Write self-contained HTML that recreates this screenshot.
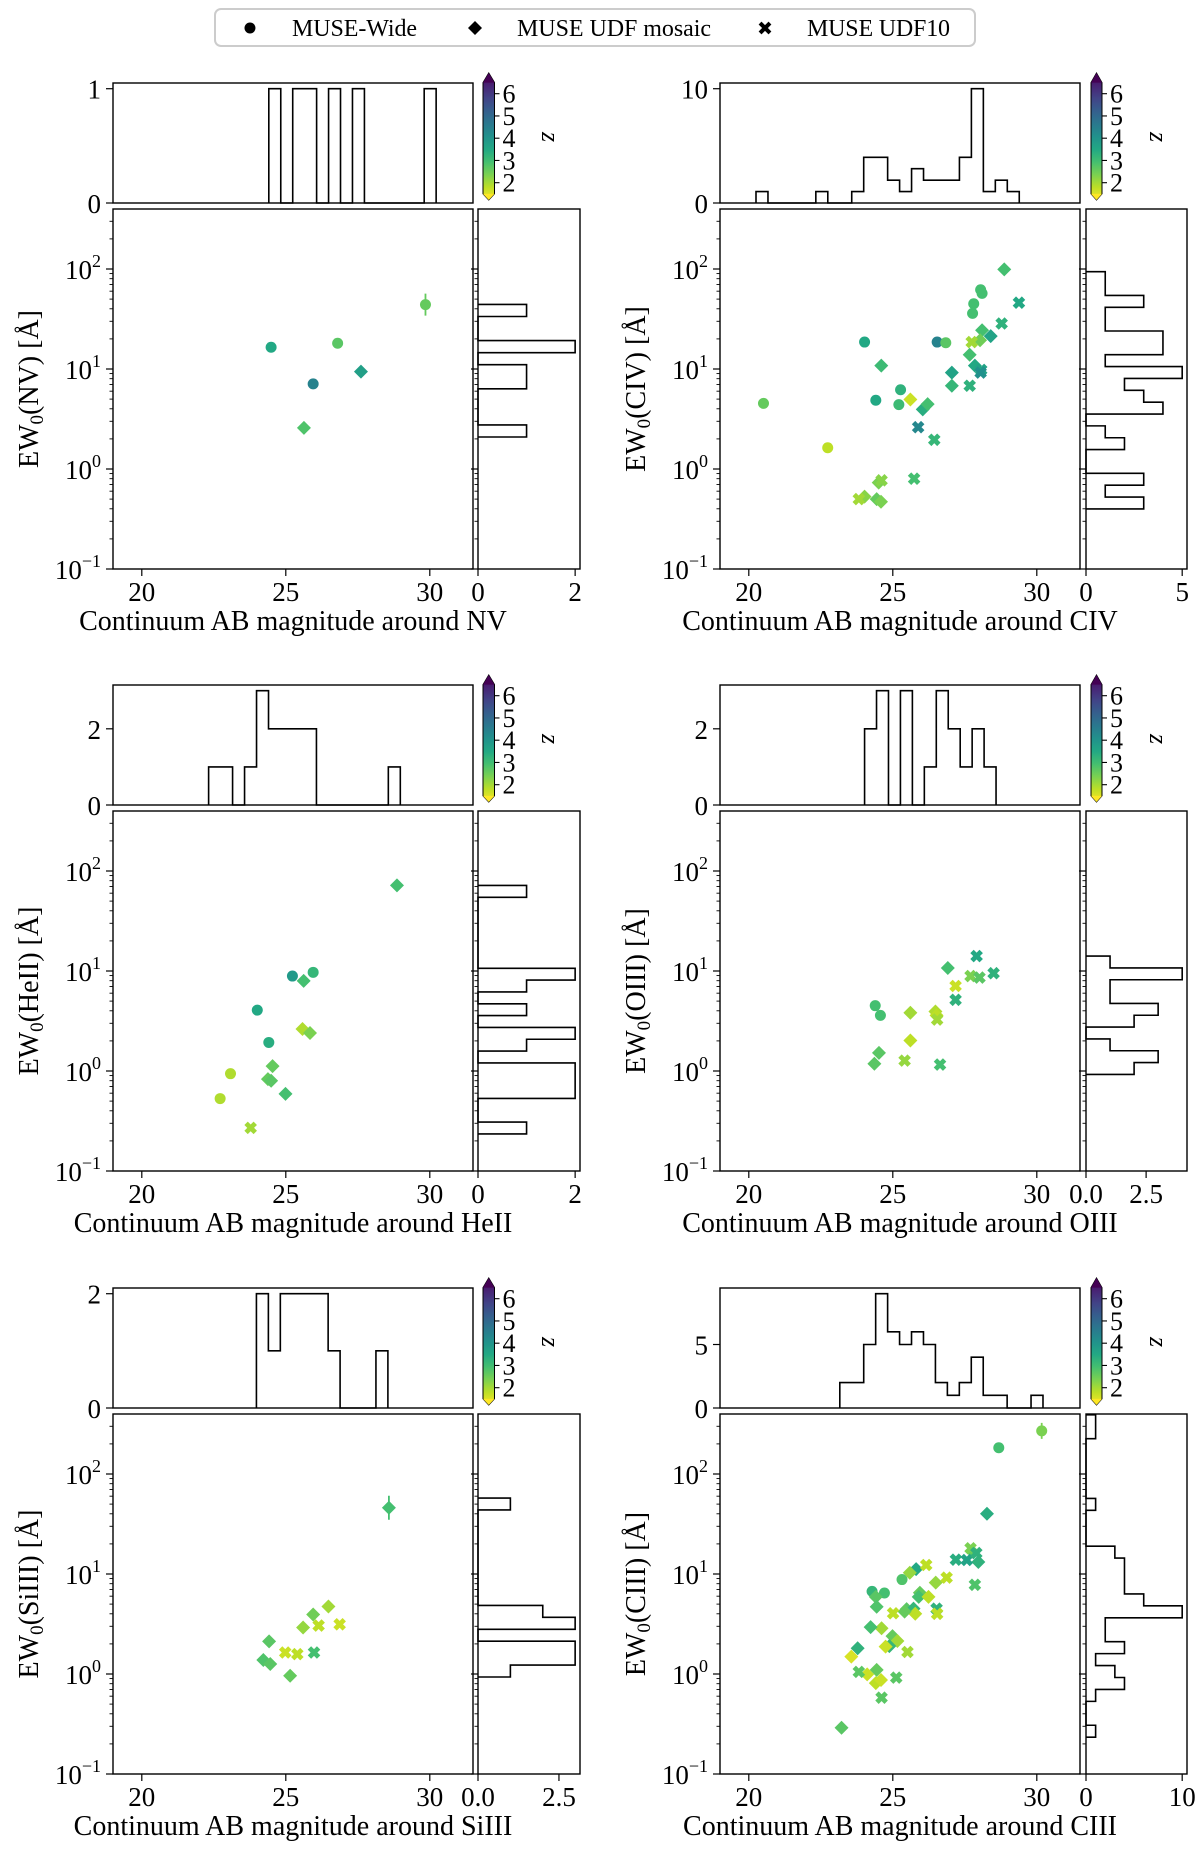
<!DOCTYPE html>
<html><head><meta charset="utf-8"><style>
html,body{margin:0;padding:0;background:#fff;}
svg{display:block;font-family:"Liberation Serif",serif;}
</style></head><body>
<svg id="fig" width="1200" height="1852" viewBox="0 0 1200 1852" xmlns="http://www.w3.org/2000/svg">
<defs>
<linearGradient id="vir" x1="0" y1="1" x2="0" y2="0">
<stop offset="0" stop-color="#fde725"/><stop offset="0.1" stop-color="#bddf26"/><stop offset="0.2" stop-color="#7ad151"/><stop offset="0.3" stop-color="#44bf70"/><stop offset="0.4" stop-color="#22a884"/><stop offset="0.5" stop-color="#21918c"/><stop offset="0.6" stop-color="#2a788e"/><stop offset="0.7" stop-color="#355f8d"/><stop offset="0.8" stop-color="#414487"/><stop offset="0.9" stop-color="#482475"/><stop offset="1" stop-color="#440154"/>
</linearGradient>
</defs>
<g>
<rect x="215" y="9" width="760" height="37" rx="6" fill="#fff" stroke="#cccccc" stroke-width="2"/>
<circle cx="250" cy="28" r="5.5" fill="#000"/>
<text x="292" y="36" font-size="24" textLength="125">MUSE-Wide</text>
<path d="M475 21 L482 28 L475 35 L468 28 Z" fill="#000"/>
<text x="517" y="36" font-size="24" textLength="194">MUSE UDF mosaic</text>
<g transform="translate(765,28)"><rect x="-7" y="-2" width="14" height="4" fill="#000" transform="rotate(45)"/><rect x="-7" y="-2" width="14" height="4" fill="#000" transform="rotate(-45)"/></g>
<text x="807" y="36" font-size="24" textLength="143">MUSE UDF10</text>
</g>
</svg>
<script>
// ===== Data =====
const nvMag=[24.49,25.95,26.8,27.61,25.63,29.85];
const nvEW=[16.5,7.1,18.1,9.4,2.58,44];
const nvZ=[3.5,4.3,2.8,3.7,2.9,2.7];
const nvMk=['o','o','o','D','D','o'];
const nvErr=[0,0,0,0,0,0.11];
const nvTopStart=24.41, nvTopWidth=0.415;
const nvTopCounts=[1,0,1,1,0,1,0,1,0,0,0,0,0,1];
const nvSideStart=0.32, nvSideWidth=0.1205;
const nvSideCounts=[1,0,0,0,1,1,0,2,0,0,1];

const civMag=[20.51,22.74,24.02,24.41,25.27,25.21,26.54,26.84,27.81,27.77,28.05,28.1,
 24.6,25.61,26.04,26.21,27.05,27.05,27.67,27.85,28.1,28.03,28.4,28.87,24.02,24.44,24.59,24.51,
 23.82,24.61,25.88,26.44,25.74,27.67,27.74,28.07,28.05,28.78,29.38];
const civEW=[4.53,1.63,18.6,4.87,6.2,4.4,18.6,18.3,44.9,36,62,57,
 10.8,4.96,3.95,4.45,9.2,6.8,13.9,10.8,24.4,19.4,21.3,99,0.53,0.5,0.47,0.73,
 0.5,0.77,2.62,1.96,0.8,6.8,18.6,9.8,9.2,28.5,46];
const civZ=[2.7,2.0,3.5,3.5,3.3,3.1,4.3,2.8,3.0,3.0,3.0,3.0,
 3.1,1.9,3.4,3.0,3.6,3.2,3.0,3.5,3.0,2.6,3.6,3.0,2.4,2.7,2.5,2.5,
 2.2,2.4,4.2,3.2,3.0,3.3,2.2,3.6,4.0,3.3,3.5];
const civMk=['o','o','o','o','o','o','o','o','o','o','o','o',
 'D','D','D','D','D','D','D','D','D','D','D','D','D','D','D','D',
 'X','X','X','X','X','X','X','X','X','X','X'];
const civErr=civMag.map(()=>0);
const civTopStart=20.25, civTopWidth=0.4155;
const civTopCounts=[1,0,0,0,0,1,0,0,1,4,4,2,1,3,2,2,2,4,10,1,2,1];
const civSideStart=-0.399, civSideWidth=0.1186;
const civSideCounts=[3,1,3,0,0,2,1,0,4,3,2,5,1,4,4,1,1,3,1,1];

const heiiMag=[22.72,23.08,24.01,24.41,25.23,25.95,25.62,25.58,25.84,24.54,24.38,24.49,24.99,28.86,23.78];
const heiiEW=[0.53,0.94,4.06,1.93,8.9,9.7,7.96,2.63,2.4,1.12,0.83,0.8,0.59,71.8,0.27];
const heiiZ=[2.1,2.1,3.5,3.4,3.8,3.2,3.0,2.1,2.5,2.7,2.7,2.8,3.0,3.0,2.2];
const heiiMk=['o','o','o','o','o','o','D','D','D','D','D','D','D','D','X'];
const heiiErr=heiiMag.map(()=>0);
const heiiTopStart=22.32, heiiTopWidth=0.416;
const heiiTopCounts=[1,1,0,1,3,2,2,2,2,0,0,0,0,0,0,1];
const heiiSideStart=-0.629, heiiSideWidth=0.1183;
const heiiSideCounts=[1,0,0,2,2,2,0,1,2,0,1,0,1,2,0,0,0,0,0,0,1];

const oiiiMag=[24.39,24.57,24.36,24.52,25.61,25.61,26.48,26.52,26.91,25.41,26.54,26.64,27.18,27.18,27.7,28.01,27.91,28.5];
const oiiiEW=[4.5,3.6,1.18,1.52,3.82,2.02,3.93,3.6,10.7,1.27,3.27,1.16,7.08,5.15,8.9,8.6,14.1,9.5];
const oiiiZ=[3.0,3.0,2.8,2.8,2.2,2.0,2.1,2.0,3.0,2.3,2.2,3.0,1.9,3.3,2.5,2.8,3.5,3.3];
const oiiiMk=['o','o','D','D','D','D','D','D','D','X','X','X','X','X','X','X','X','X'];
const oiiiErr=oiiiMag.map(()=>0);
const oiiiTopStart=24.02, oiiiTopWidth=0.415;
const oiiiTopCounts=[2,3,0,3,0,1,3,2,1,2,1];
const oiiiSideStart=-0.034, oiiiSideWidth=0.1183;
const oiiiSideCounts=[2,3,1,0,2,3,1,1,4,1];

const siiiiMag=[28.58,24.42,24.22,24.46,25.15,25.6,25.95,26.48,24.98,25.4,25.98,26.14,26.87];
const siiiiEW=[46,2.12,1.38,1.26,0.96,2.92,3.94,4.73,1.64,1.58,1.64,3.05,3.14];
const siiiiZ=[3.0,2.8,2.9,2.8,2.7,2.3,2.6,2.2,1.9,2.0,3.0,2.0,1.9];
const siiiiMk=['D','D','D','D','D','D','D','D','X','X','X','X','X'];
const siiiiErr=[0.12,0,0,0,0,0,0,0,0,0,0,0,0];
const siiiiTopStart=23.98, siiiiTopWidth=0.415;
const siiiiTopCounts=[2,1,2,2,2,2,1,0,0,0,1];
const siiiiSideStart=-0.03, siiiiSideWidth=0.1193;
const siiiiSideCounts=[1,3,3,0,3,2,0,0,0,0,0,0,0,0,1];

const ciiiMag=[28.68,24.28,24.71,25.32,30.17,
 28.27,27.97,27.74,25.81,25.59,24.41,24.44,24.61,24.23,23.78,23.56,24.44,24.11,24.41,24.59,24.99,25.16,25.48,25.72,25.78,25.94,25.9,26.49,26.24,25.41,24.88,24.75,23.22,
 23.82,24.61,25.12,25.51,25.01,26.16,26.87,26.52,26.54,27.19,27.57,27.7,27.85,27.9];
const ciiiEW=[183,6.7,6.45,8.8,270,
 40,13.2,17,11.2,10.3,5.9,4.7,2.87,2.94,1.81,1.49,1.1,0.99,0.81,0.87,2.39,2.14,4.45,4.5,4.0,6.5,5.9,8.2,5.9,4.2,1.9,1.88,0.29,
 1.05,0.58,0.92,1.66,4.05,12.3,9.2,4.5,4.0,13.9,13.8,18.1,7.8,16.2];
const ciiiZ=[3.0,3.2,3.0,2.9,2.5,
 3.4,3.3,2.7,3.5,2.3,2.8,2.9,2.2,3.0,3.3,1.8,2.7,1.9,2.0,1.9,2.7,2.2,2.8,3.2,2.0,2.7,3.0,2.3,2.0,2.7,3.2,1.9,2.8,
 2.8,2.8,2.8,2.2,2.0,2.0,2.0,3.3,2.0,3.4,3.6,2.5,2.9,3.3];
const ciiiMk=['o','o','o','o','o',
 'D','D','D','D','D','D','D','D','D','D','D','D','D','D','D','D','D','D','D','D','D','D','D','D','D','D','D','D',
 'X','X','X','X','X','X','X','X','X','X','X','X','X','X'];
const ciiiErr=ciiiMag.map((v,i)=>i===4?0.08:0);
const ciiiTopStart=23.16, ciiiTopWidth=0.415;
const ciiiTopCounts=[2,2,5,9,6,5,6,5,2,1,2,4,1,1,0,0,1];
const ciiiSideStart=-0.632, ciiiSideWidth=0.1194;
const ciiiSideCounts=[1,0,0,1,4,3,1,4,2,2,10,6,4,4,4,3,0,0,0,1,0,0,0,0,0,1,1];

const xTickVals=[20,25,30];
const yDecades=[-1,0,1,2];
const cbTickVals=[2,3,4,5,6];

// ===== Layout =====
const XMIN=19.0, XMAX=31.5, LMIN=-1, LMAX=2.6, ZMIN=1.5, ZMAX=6.5;
const FS=27, FL=28;
const cols=[{mx0:113,mx1:473,rx0:478,rx1:580,cb0:483,cb1:494.5,ylab:29},
            {mx0:720,mx1:1080,rx0:1086,rx1:1187,cb0:1091,cb1:1102,ylab:636}];
const rowOff=[0,602,1205];
const svg=document.getElementById('fig');
const NS='http://www.w3.org/2000/svg';
function mk(tag,attrs,parent){const e=document.createElementNS(NS,tag);for(const k in attrs)e.setAttribute(k,attrs[k]);parent.appendChild(e);return e;}
const VIR=['#440154','#482475','#414487','#355f8d','#2a788e','#21918c','#22a884','#44bf70','#7ad151','#bddf26','#fde725'];
function hex(c){return [parseInt(c.substr(1,2),16),parseInt(c.substr(3,2),16),parseInt(c.substr(5,2),16)];}
function zcol(z){let t=1-(z-ZMIN)/(ZMAX-ZMIN);t=Math.max(0,Math.min(1,t));const f=t*10;const i=Math.min(9,Math.floor(f));const u=f-i;const a=hex(VIR[i]),b=hex(VIR[i+1]);return 'rgb('+a.map((v,k)=>Math.round(v+(b[k]-v)*u)).join(',')+')';}

const panels=[
 {key:'nv',lab:'NV',col:0,row:0,mag:nvMag,ew:nvEW,z:nvZ,mk:nvMk,err:nvErr,ts:nvTopStart,tw:nvTopWidth,tc:nvTopCounts,tmax:1.05,tticks:[0,1],ss:nvSideStart,sw:nvSideWidth,sc:nvSideCounts,smax:2.1,sticks:[0,2],slabs:['0','2']},
 {key:'civ',lab:'CIV',col:1,row:0,mag:civMag,ew:civEW,z:civZ,mk:civMk,err:civErr,ts:civTopStart,tw:civTopWidth,tc:civTopCounts,tmax:10.5,tticks:[0,10],ss:civSideStart,sw:civSideWidth,sc:civSideCounts,smax:5.25,sticks:[0,5],slabs:['0','5']},
 {key:'heii',lab:'HeII',col:0,row:1,mag:heiiMag,ew:heiiEW,z:heiiZ,mk:heiiMk,err:heiiErr,ts:heiiTopStart,tw:heiiTopWidth,tc:heiiTopCounts,tmax:3.15,tticks:[0,2],ss:heiiSideStart,sw:heiiSideWidth,sc:heiiSideCounts,smax:2.1,sticks:[0,2],slabs:['0','2']},
 {key:'oiii',lab:'OIII',col:1,row:1,mag:oiiiMag,ew:oiiiEW,z:oiiiZ,mk:oiiiMk,err:oiiiErr,ts:oiiiTopStart,tw:oiiiTopWidth,tc:oiiiTopCounts,tmax:3.15,tticks:[0,2],ss:oiiiSideStart,sw:oiiiSideWidth,sc:oiiiSideCounts,smax:4.2,sticks:[0,2.5],slabs:['0.0','2.5']},
 {key:'siiii',lab:'SiIII',col:0,row:2,mag:siiiiMag,ew:siiiiEW,z:siiiiZ,mk:siiiiMk,err:siiiiErr,ts:siiiiTopStart,tw:siiiiTopWidth,tc:siiiiTopCounts,tmax:2.1,tticks:[0,2],ss:siiiiSideStart,sw:siiiiSideWidth,sc:siiiiSideCounts,smax:3.15,sticks:[0,2.5],slabs:['0.0','2.5']},
 {key:'ciii',lab:'CIII',col:1,row:2,mag:ciiiMag,ew:ciiiEW,z:ciiiZ,mk:ciiiMk,err:ciiiErr,ts:ciiiTopStart,tw:ciiiTopWidth,tc:ciiiTopCounts,tmax:9.45,tticks:[0,5],ss:ciiiSideStart,sw:ciiiSideWidth,sc:ciiiSideCounts,smax:10.5,sticks:[0,10],slabs:['0','10']}
];

panels.forEach(p=>{
 const C=cols[p.col], o=rowOff[p.row];
 const th0=83+o, th1=203+o, m0=209+o, m1=569+o, cbT=73+o, cbB=200+o;
 const xS=v=>C.mx0+(v-XMIN)/(XMAX-XMIN)*(C.mx1-C.mx0);
 const yL=l=>m1-(l-LMIN)/(LMAX-LMIN)*(m1-m0);
 const yS=v=>yL(Math.log10(v));
 const thY=c=>th1-c/p.tmax*(th1-th0);
 const rX=c=>C.rx0+c/p.smax*(C.rx1-C.rx0);
 const g=mk('g',{},svg);
 
 
 const cid='clip-'+p.key;
 const cp=mk('clipPath',{id:cid},g);
 mk('rect',{x:C.mx0,y:m0,width:C.mx1-C.mx0,height:m1-m0},cp);

 const sg=mk('g',{'clip-path':'url(#'+cid+')'},g);
 
 
 p.mag.forEach((m,i)=>{
  const x=xS(m), y=yS(p.ew[i]), col=zcol(p.z[i]);
  if(p.err[i]>0){
   const eb=mk('path',{d:'M'+x+' '+yL(Math.log10(p.ew[i])+p.err[i])+'V'+yL(Math.log10(p.ew[i])-p.err[i])+'M'+(x-5)+' '+y+'H'+(x+5),stroke:col,'stroke-width':1.8,fill:'none'},sg);
   
   
  }
  let el;
  if(p.mk[i]==='o'){el=mk('circle',{cx:x,cy:y,r:5.5,fill:col},sg);}
  else if(p.mk[i]==='D'){el=mk('path',{d:'M'+x+' '+(y-7)+'L'+(x+7)+' '+y+'L'+x+' '+(y+7)+'L'+(x-7)+' '+y+'Z',fill:col},sg);}
  else{el=mk('g',{transform:'translate('+x+','+y+')',fill:col},sg);
   mk('rect',{x:-6.5,y:-2.4,width:13,height:4.8,transform:'rotate(45)'},el);
   mk('rect',{x:-6.5,y:-2.4,width:13,height:4.8,transform:'rotate(-45)'},el);}
  
  
 });

 const mf=mk('rect',{x:C.mx0,y:m0,width:C.mx1-C.mx0,height:m1-m0,fill:'none',stroke:'#000','stroke-width':1.4},g);
 
 
 xTickVals.forEach(v=>{
  const x=xS(v);
  mk('line',{x1:x,x2:x,y1:m1,y2:m1+7,stroke:'#000','stroke-width':1.2},g);
  const t=mk('text',{x:x,y:601+o,'font-size':FS,'text-anchor':'middle'},g);
  t.textContent=String(v);
  
  
 });
 [C.mx0,C.rx0].forEach(ax=>{
  for(let d=-1;d<=2;d++){
   for(let k=1;k<=9;k++){
    const l=d+Math.log10(k); if(l>LMAX||l<LMIN)continue;
    const y=yL(l), len=k===1?7:3.5;
    mk('line',{x1:ax-len,x2:ax,y1:y,y2:y,stroke:'#000','stroke-width':k===1?1.2:0.9},g);
   }
  }
 });
 yDecades.forEach(d=>{
  const y=yL(d);
  const t=mk('text',{x:C.mx0-12,y:y+10,'font-size':FS,'text-anchor':'end'},g);
  
  
  const a=mk('tspan',{},t);a.textContent='10';
  const b=mk('tspan',{dy:-12,'font-size':18},t);b.textContent=(d<0?'\u2212':'')+Math.abs(d);
 });
 const xl=mk('text',{x:(C.mx0+C.mx1)/2,y:630+o,'font-size':FL,'text-anchor':'middle'},g);
 xl.textContent='Continuum AB magnitude around '+p.lab;
 
 
 const yc=(m0+m1)/2;
 const yl=mk('text',{x:C.ylab+9,y:yc,'font-size':FL,'text-anchor':'middle',transform:'rotate(-90 '+(C.ylab+9)+' '+yc+')'},g);
 
 
 const s1=mk('tspan',{},yl);s1.textContent='EW';
 const s2=mk('tspan',{dy:5,'font-size':19},yl);s2.textContent='0';
 const s3=mk('tspan',{dy:-5},yl);s3.textContent='('+p.lab+') [Å]';

 const tf=mk('rect',{x:C.mx0,y:th0,width:C.mx1-C.mx0,height:th1-th0,fill:'none',stroke:'#000','stroke-width':1.4},g);
 
 
 let pts=[[xS(p.ts),thY(0)]];
 p.tc.forEach((c,i)=>{const e0=p.ts+i*p.tw,e1=e0+p.tw;pts.push([xS(e0),thY(c)],[xS(e1),thY(c)]);});
 pts.push([xS(p.ts+p.tc.length*p.tw),thY(0)]);
 const th=mk('polyline',{points:pts.map(q=>q.join(',')).join(' '),fill:'none',stroke:'#000','stroke-width':1.6},g);
 
 
 p.tticks.forEach(v=>{
  const y=thY(v);
  mk('line',{x1:C.mx0-7,x2:C.mx0,y1:y,y2:y,stroke:'#000','stroke-width':1.2},g);
  const t=mk('text',{x:C.mx0-12,y:y+10,'font-size':FS,'text-anchor':'end'},g);
  t.textContent=String(v);
  
  
 });

 const rf=mk('rect',{x:C.rx0,y:m0,width:C.rx1-C.rx0,height:m1-m0,fill:'none',stroke:'#000','stroke-width':1.4},g);
 
 
 pts=[[rX(0),yL(p.ss)]];
 p.sc.forEach((c,i)=>{const e0=p.ss+i*p.sw,e1=e0+p.sw;pts.push([rX(c),yL(e0)],[rX(c),yL(e1)]);});
 pts.push([rX(0),yL(p.ss+p.sc.length*p.sw)]);
 const sh=mk('polyline',{points:pts.map(q=>q.join(',')).join(' '),fill:'none',stroke:'#000','stroke-width':1.6},g);
 
 
 p.sticks.forEach((v,i)=>{
  const x=rX(v);
  mk('line',{x1:x,x2:x,y1:m1,y2:m1+7,stroke:'#000','stroke-width':1.2},g);
  const t=mk('text',{x:x,y:601+o,'font-size':FS,'text-anchor':'middle'},g);
  t.textContent=p.slabs[i];
  
  
 });

 const zy=z=>93.7+o+(6-z)*22.25;
 const yT=zy(ZMAX), yB=zy(ZMIN), cx=(C.cb0+C.cb1)/2;
 const cb=mk('path',{d:'M'+C.cb0+' '+yT+'L'+cx+' '+cbT+'L'+C.cb1+' '+yT+'V'+yB+'L'+cx+' '+cbB+'L'+C.cb0+' '+yB+'Z',fill:'url(#vir)',stroke:'#000','stroke-width':1},g);
 
 
 mk('path',{d:'M'+C.cb0+' '+yT+'L'+cx+' '+cbT+'L'+C.cb1+' '+yT+'Z',fill:'#440154'},g);
 mk('path',{d:'M'+C.cb0+' '+yB+'L'+cx+' '+cbB+'L'+C.cb1+' '+yB+'Z',fill:'#fde725'},g);
 cbTickVals.forEach(v=>{
  const y=zy(v);
  mk('line',{x1:C.cb1,x2:C.cb1+5,y1:y,y2:y,stroke:'#000','stroke-width':1.1},g);
  const t=mk('text',{x:C.cb1+8,y:y+9,'font-size':26},g);
  t.textContent=String(v);
  
  
 });
 const zl=mk('text',{x:C.cb0+59,y:137+o,'font-size':26,'font-style':'italic','text-anchor':'middle',transform:'rotate(90 '+(C.cb0+59)+' '+(137+o)+')'},g);
 zl.textContent='z';
 
 
});
</script>
</body></html>
